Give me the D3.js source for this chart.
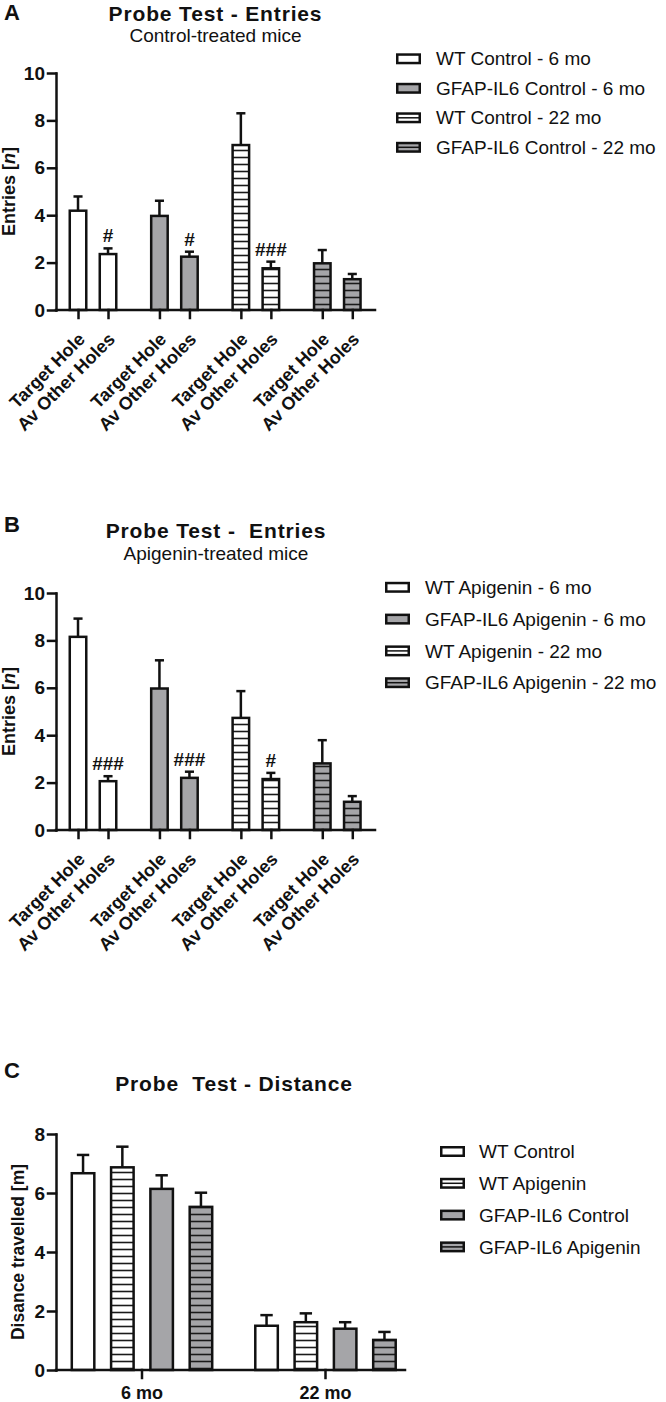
<!DOCTYPE html>
<html><head><meta charset="utf-8">
<script src="https://cdn.jsdelivr.net/npm/d3@7"></script>
<style>
body{margin:0;background:#fff}
svg{display:block;font-family:"Liberation Sans",Arial,Helvetica,sans-serif}
</style></head><body>
<svg id="c" width="666" height="1402"></svg>
<script>
// ---------- data ----------
const entryGroupsA = ["WT Control - 6 mo","GFAP-IL6 Control - 6 mo","WT Control - 22 mo","GFAP-IL6 Control - 22 mo"];
const entryGroupsB = ["WT Apigenin - 6 mo","GFAP-IL6 Apigenin - 6 mo","WT Apigenin - 22 mo","GFAP-IL6 Apigenin - 22 mo"];
const holeLabels = ["Target Hole","Av Other Holes"];
const entriesA    = [[4.19,2.36],[3.97,2.25],[6.96,1.76],[1.97,1.30]];
const entriesAErr = [[0.60,0.24],[0.64,0.21],[1.34,0.28],[0.56,0.22]];
const entriesASig = [["","#"],["","#"],["","###"],["",""]];
const entriesB    = [[8.15,2.06],[5.97,2.20],[4.73,2.15],[2.81,1.19]];
const entriesBErr = [[0.77,0.21],[1.19,0.26],[1.13,0.26],[0.98,0.24]];
const entriesBSig = [["","###"],["","###"],["","#"],["",""]];
const entryTicks = [0,2,4,6,8,10];
const ageGroups = ["6 mo","22 mo"];
const distSeries = ["WT Control","WT Apigenin","GFAP-IL6 Control","GFAP-IL6 Apigenin"];
const distance    = [[6.67,6.87,6.14,5.53],[1.50,1.62,1.40,1.02]];
const distanceErr = [[0.62,0.70,0.46,0.48],[0.36,0.30,0.22,0.27]];
const distTicks = [0,2,4,6,8];

// ---------- styles ----------
const GREY = "#a5a5a8", INK = "#111";
const entryStyles = [{bg:"#fff",stripe:false},{bg:GREY,stripe:false},{bg:"#fff",stripe:true},{bg:GREY,stripe:true}];
const distStyles  = [{bg:"#fff",stripe:false},{bg:"#fff",stripe:true},{bg:GREY,stripe:false},{bg:GREY,stripe:true}];

const svg = d3.select("#c");
const defs = svg.append("defs");
function makeStripe(id, bg){
  const p = defs.append("pattern").attr("id",id).attr("patternUnits","userSpaceOnUse")
    .attr("width",8).attr("height",7);
  p.append("rect").attr("width",8).attr("height",7).attr("fill",bg);
  p.append("line").attr("x1",0).attr("x2",8).attr("y1",3.5).attr("y2",3.5)
    .attr("stroke","#1a1a1a").attr("stroke-width",1.6);
}
makeStripe("stripeW","#fff");
makeStripe("stripeG",GREY);
const fillOf = s => s.stripe ? (s.bg === "#fff" ? "url(#stripeW)" : "url(#stripeG)") : s.bg;

function styleAxis(g, size){
  g.selectAll("path,line").attr("stroke",INK).attr("stroke-width",2.5).attr("stroke-linecap","square");
  g.selectAll("text").attr("fill",INK).attr("font-family",'"Liberation Sans",Arial,sans-serif')
    .attr("font-weight","bold").attr("font-size",size);
  g.attr("font-family",null).attr("font-size",null);
}

function titleBlock(cx, letter, letterY, title, titleY, sub, subY){
  svg.append("text").attr("x",4).attr("y",letterY).attr("font-weight","bold").attr("font-size",22)
    .attr("fill",INK).text(letter);
  svg.append("text").attr("x",cx).attr("y",titleY).attr("text-anchor","middle").attr("font-weight","bold")
    .attr("font-size",21).attr("letter-spacing",0.85).style("white-space","pre").attr("fill",INK).text(title);
  if (sub) svg.append("text").attr("x",cx).attr("y",subY).attr("text-anchor","middle")
    .attr("font-size",19).attr("fill",INK).text(sub);
}

function legend(x, textX, y0, step, labels, styles){
  const g = svg.append("g");
  labels.forEach((lab,i)=>{
    const cy = y0 + i*step;
    g.append("rect").attr("x",x+1.25).attr("y",cy-4.25).attr("width",22.5).attr("height",8.5)
      .attr("fill",styles[i].bg).attr("stroke",INK).attr("stroke-width",2.5);
    if (styles[i].stripe) g.append("line").attr("x1",x+1.25).attr("x2",x+23.75).attr("y1",cy).attr("y2",cy)
      .attr("stroke",INK).attr("stroke-width",1.5);
    g.append("text").attr("x",textX).attr("y",cy).attr("dy","0.35em").attr("font-size",19)
      .attr("fill",INK).text(lab);
  });
}

function entriesPanel(cfg){
  const g = svg.append("g");
  const y = d3.scaleLinear().domain([0,10]).range([cfg.y0, cfg.y0-237]);
  const xg = d3.scaleBand().domain(cfg.groups).range([52.3, 378]);
  const c = xg.bandwidth()/2;
  const xs = d3.scaleBand().domain(holeLabels).range([c-30, c+30]).paddingInner(0.45).paddingOuter(0.225);
  const data = [];
  cfg.groups.forEach((grp,gi)=>holeLabels.forEach((h,si)=>data.push({
    key: gi+"|"+h, grp, h, v: cfg.vals[gi][si], e: cfg.errs[gi][si], sig: cfg.sig[gi][si], st: entryStyles[gi]
  })));
  const cx = d => xg(d.grp)+xs(d.h)+xs.bandwidth()/2;
  const cap = xs.bandwidth()*0.55/2;
  const eb = g.selectAll(".eb").data(data).join("g");
  eb.append("line").attr("x1",cx).attr("x2",cx).attr("y1",d=>y(d.v)).attr("y2",d=>y(d.v+d.e))
    .attr("stroke",INK).attr("stroke-width",2.5);
  eb.append("line").attr("x1",d=>cx(d)-cap).attr("x2",d=>cx(d)+cap).attr("y1",d=>y(d.v+d.e)).attr("y2",d=>y(d.v+d.e))
    .attr("stroke",INK).attr("stroke-width",2.5);
  g.selectAll(".bar").data(data).join("rect")
    .attr("x",d=>xg(d.grp)+xs(d.h)).attr("width",xs.bandwidth())
    .attr("y",d=>y(d.v)).attr("height",d=>y(0)-y(d.v))
    .attr("fill",d=>fillOf(d.st)).attr("stroke",INK).attr("stroke-width",2.5);
  g.selectAll(".sig").data(data.filter(d=>d.sig)).join("text")
    .attr("x",cx).attr("y",d=>y(d.v+d.e)-6).attr("text-anchor","middle").attr("font-size",19)
    .attr("font-weight","bold").attr("fill",INK).text(d=>d.sig);
  const ya = g.append("g").attr("transform","translate(56,0)")
    .call(d3.axisLeft(y).tickValues(entryTicks).tickSize(8).tickSizeOuter(0).tickPadding(3));
  styleAxis(ya, 19);
  const xt = d3.scaleOrdinal().domain(data.map(d=>d.key)).range(data.map(cx));
  const xa = g.append("g").attr("transform",`translate(0,${cfg.y0})`)
    .call(d3.axisBottom(xt).tickSize(8).tickFormat(k=>k.split("|")[1]));
  xa.select(".domain").remove();
  xa.append("line").attr("x1",56).attr("x2",375).attr("y1",0).attr("y2",0);
  styleAxis(xa, 18);
  xa.selectAll(".tick text").attr("x",0).attr("y",0).attr("dy","0.35em").attr("text-anchor","end")
    .attr("transform","translate(3,26) rotate(-45)");
  g.append("text").attr("transform",`translate(15,${(y(0)+y(10))/2}) rotate(-90)`).attr("text-anchor","middle")
    .attr("font-weight","bold").attr("font-size",18).attr("fill",INK)
    .html('Entries [<tspan font-style="italic">n</tspan>]');
}

// ---------- Panel A ----------
titleBlock(215.5, "A", 20, "Probe Test - Entries", 21, "Control-treated mice", 41.5);
entriesPanel({y0:310, groups:entryGroupsA, vals:entriesA, errs:entriesAErr, sig:entriesASig});
legend(396, 436, 58.8, 29.5, entryGroupsA, entryStyles);

// ---------- Panel B ----------
titleBlock(216, "B", 532, "Probe Test -  Entries", 538, "Apigenin-treated mice", 560);
entriesPanel({y0:830, groups:entryGroupsB, vals:entriesB, errs:entriesBErr, sig:entriesBSig});
legend(385, 425, 587.3, 31.8, entryGroupsB, entryStyles);

// ---------- Panel C ----------
titleBlock(234, "C", 1078, "Probe  Test - Distance", 1091, null, 0);
(function(){
  const g = svg.append("g");
  const y0 = 1370;
  const y = d3.scaleLinear().domain([0,8]).range([y0, 1134]);
  const xg = d3.scaleBand().domain(ageGroups).range([50.25, 417.25]);
  const c = xg.bandwidth()/2;
  const xs = d3.scaleBand().domain(distSeries).range([c-78.6, c+78.6]).paddingInner(0.427).paddingOuter(0.2135);
  const data = [];
  ageGroups.forEach((a,gi)=>distSeries.forEach((s,si)=>data.push({a, s, v:distance[gi][si], e:distanceErr[gi][si], st:distStyles[si]})));
  const cx = d => xg(d.a)+xs(d.s)+xs.bandwidth()/2;
  const cap = xs.bandwidth()*0.55/2;
  const eb = g.selectAll(".eb").data(data).join("g");
  eb.append("line").attr("x1",cx).attr("x2",cx).attr("y1",d=>y(d.v)).attr("y2",d=>y(d.v+d.e))
    .attr("stroke",INK).attr("stroke-width",2.5);
  eb.append("line").attr("x1",d=>cx(d)-cap).attr("x2",d=>cx(d)+cap).attr("y1",d=>y(d.v+d.e)).attr("y2",d=>y(d.v+d.e))
    .attr("stroke",INK).attr("stroke-width",2.5);
  g.selectAll(".bar").data(data).join("rect")
    .attr("x",d=>xg(d.a)+xs(d.s)).attr("width",xs.bandwidth())
    .attr("y",d=>y(d.v)).attr("height",d=>y(0)-y(d.v))
    .attr("fill",d=>fillOf(d.st)).attr("stroke",INK).attr("stroke-width",2.5);
  const ya = g.append("g").attr("transform","translate(56,0)")
    .call(d3.axisLeft(y).tickValues(distTicks).tickSize(8).tickSizeOuter(0).tickPadding(3));
  styleAxis(ya, 19);
  const xa = g.append("g").attr("transform",`translate(0,${y0})`)
    .call(d3.axisBottom(xg).tickSize(8).tickPadding(8));
  xa.select(".domain").remove();
  xa.append("line").attr("x1",56).attr("x2",405).attr("y1",0).attr("y2",0);
  styleAxis(xa, 18);
  g.append("text").attr("transform",`translate(24,${(y(0)+y(8))/2}) rotate(-90)`).attr("text-anchor","middle")
    .attr("font-weight","bold").attr("font-size",17.5).attr("fill",INK).text("Disance travelled [m]");
  legend(440, 479, 1151.5, 31.8, distSeries, distStyles);
})();
</script>
</body></html>
